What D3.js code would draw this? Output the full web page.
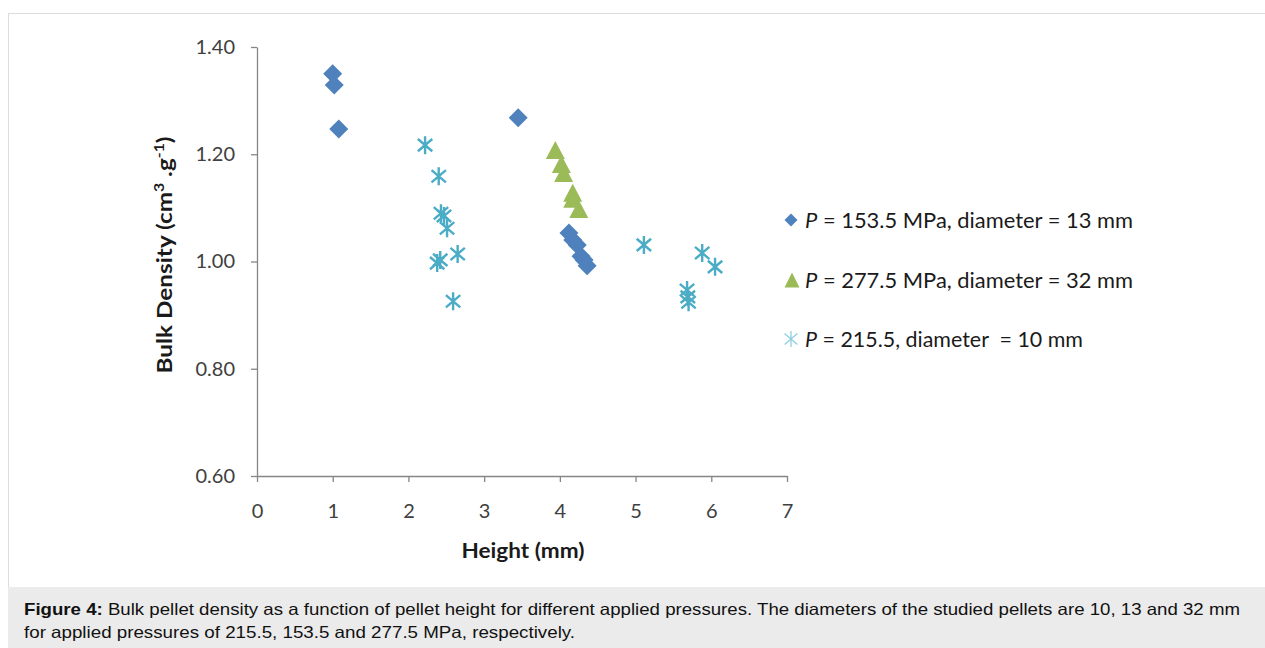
<!DOCTYPE html>
<html>
<head>
<meta charset="utf-8">
<script src="https://cdn.jsdelivr.net/npm/d3@7"></script>
<style>
  body { margin: 0; background: #fff; }
  svg { display: block; }
</style>
</head>
<body>
<div id="chart"></div>
<script>
// values
const heights153 = [1.00, 1.02, 1.08, 3.45, 4.12, 4.17, 4.23, 4.28, 4.32, 4.36];
const density153 = [1.350, 1.329, 1.247, 1.268, 1.053, 1.040, 1.031, 1.010, 1.003, 0.992];

const heights277 = [3.94, 4.02, 4.05, 4.17, 4.17, 4.25];
const density277 = [1.208, 1.182, 1.165, 1.128, 1.117, 1.098];

const heights215 = [2.22, 2.40, 2.43, 2.47, 2.51, 2.38, 2.42, 2.65, 2.59, 5.11, 5.88, 6.05, 5.68, 5.69, 5.70];
const density215 = [1.217, 1.159, 1.090, 1.085, 1.062, 0.997, 1.003, 1.014, 0.926, 1.031, 1.016, 0.990, 0.947, 0.934, 0.924];

const xTicks = [0, 1, 2, 3, 4, 5, 6, 7];
const yTicks = [0.60, 0.80, 1.00, 1.20, 1.40];

const legendLabels = [
  ["P", " = 153.5 MPa, diameter = 13 mm"],
  ["P", " = 277.5 MPa, diameter = 32 mm"],
  ["P", " = 215.5, diameter  = 10 mm"]
];
const legendWidths = [328, 328, 278];

const captionBold = "Figure 4:";
const captionLine1 = " Bulk pellet density as a function of pellet height for different applied pressures. The diameters of the studied pellets are 10, 13 and 32 mm";
const captionLine2 = "for applied pressures of 215.5, 153.5 and 277.5 MPa, respectively.";

const width = 1265, height = 648;
const chartFont = "Lato, 'Open Sans', sans-serif";
const blue = "#4f81bd", green = "#9bbb59", cyan = "#4bacc6";

const svg = d3.select("#chart").append("svg")
  .attr("width", width)
  .attr("height", height);

// frame + caption box
svg.append("rect")
  .attr("x", 8.5).attr("y", 13.5)
  .attr("width", width).attr("height", 574)
  .attr("fill", "#fff")
  .attr("stroke", "#dcdcdc");
svg.append("rect")
  .attr("x", 8).attr("y", 587)
  .attr("width", width - 8).attr("height", height - 587)
  .attr("fill", "#ebebeb");

const xScale = d3.scaleLinear().domain([0, 7]).range([257, 787]);
const yScale = d3.scaleLinear().domain([0.6, 1.4]).range([476, 47]);

const xAxis = svg.append("g")
  .attr("transform", "translate(0," + yScale(0.6) + ")")
  .call(d3.axisBottom(xScale).tickValues(xTicks).tickSize(6).tickPadding(22)
    .tickFormat(d3.format("d")).tickSizeOuter(0));
const yAxis = svg.append("g")
  .attr("transform", "translate(" + xScale(0) + ",0)")
  .call(d3.axisLeft(yScale).tickValues(yTicks).tickSize(6).tickPadding(16)
    .tickFormat(d3.format(".2f")).tickSizeOuter(0));

[xAxis, yAxis].forEach(g => {
  g.select(".domain").attr("stroke", "#868686").attr("stroke-width", 1.3);
  g.selectAll(".tick line").attr("stroke", "#868686").attr("stroke-width", 1.3);
  g.selectAll(".tick text")
    .attr("fill", "#404040")
    .style("font-family", chartFont)
    .style("font-size", "20px");
});

// axis titles
svg.append("text")
  .attr("x", 523).attr("y", 558)
  .attr("text-anchor", "middle")
  .attr("textLength", 123)
  .attr("lengthAdjust", "spacingAndGlyphs")
  .style("font-family", chartFont)
  .style("font-size", "20px")
  .style("font-weight", "bold")
  .attr("fill", "#1a1a1a")
  .text("Height (mm)");

const yTitle = svg.append("text")
  .attr("transform", "translate(172,255) rotate(-90)")
  .attr("text-anchor", "middle")
  .attr("textLength", 237)
  .attr("lengthAdjust", "spacingAndGlyphs")
  .style("font-family", chartFont)
  .style("font-size", "20px")
  .style("font-weight", "bold")
  .attr("fill", "#1a1a1a");
yTitle.append("tspan").text("Bulk Density (cm");
yTitle.append("tspan").attr("dy", -8).style("font-size", "13px").text("3");
yTitle.append("tspan").attr("dy", 8).text(" .g");
yTitle.append("tspan").attr("dy", -8).style("font-size", "13px").text("-1");
yTitle.append("tspan").attr("dy", 8).text(")");

// marker shapes
function diamond(r) {
  return "M0," + (-r) + "L" + r + ",0L0," + r + "L" + (-r) + ",0Z";
}
function triangle(w, h) {
  return "M0," + (-h / 2) + "L" + (w / 2) + "," + (h / 2) + "L" + (-w / 2) + "," + (h / 2) + "Z";
}
function star(r) {
  const d = r * 0.8;
  return "M0," + (-r) + "L0," + r +
    "M" + (-d) + "," + (-d * 0.85) + "L" + d + "," + (d * 0.85) +
    "M" + d + "," + (-d * 0.85) + "L" + (-d) + "," + (d * 0.85);
}

const pts215 = heights215.map((h, i) => [h, density215[i]]);
const pts277 = heights277.map((h, i) => [h, density277[i]]);
const pts153 = heights153.map((h, i) => [h, density153[i]]);

svg.append("g").selectAll("path")
  .data(pts215)
  .enter()
  .append("path")
  .attr("d", star(9))
  .attr("transform", d => "translate(" + xScale(d[0]) + "," + yScale(d[1]) + ")")
  .attr("fill", "none")
  .attr("stroke", cyan)
  .attr("stroke-width", 2.4);

svg.append("g").selectAll("path")
  .data(pts277)
  .enter()
  .append("path")
  .attr("d", triangle(19, 18))
  .attr("transform", d => "translate(" + xScale(d[0]) + "," + yScale(d[1]) + ")")
  .attr("fill", green);

svg.append("g").selectAll("path")
  .data(pts153)
  .enter()
  .append("path")
  .attr("d", diamond(9.5))
  .attr("transform", d => "translate(" + xScale(d[0]) + "," + yScale(d[1]) + ")")
  .attr("fill", blue);

// legend
const legendY = [220, 280, 339];
const legend = svg.append("g");
legend.append("path").attr("d", diamond(6.5))
  .attr("transform", "translate(791," + legendY[0] + ")").attr("fill", blue);
legend.append("path").attr("d", triangle(15, 15))
  .attr("transform", "translate(792," + legendY[1] + ")").attr("fill", green);
legend.append("path").attr("d", star(8))
  .attr("transform", "translate(791," + legendY[2] + ")")
  .attr("fill", "none").attr("stroke", "#8fcfe0").attr("stroke-width", 1.3);

legendLabels.forEach((lab, i) => {
  const t = legend.append("text")
    .attr("x", 805).attr("y", legendY[i] + 8)
    .attr("textLength", legendWidths[i])
    .attr("lengthAdjust", "spacingAndGlyphs")
    .style("font-family", chartFont)
    .style("font-size", "21px")
    .style("white-space", "pre")
    .attr("fill", "#1a1a1a");
  t.append("tspan").style("font-style", "italic").text(lab[0]);
  t.append("tspan").text(lab[1]);
});

// caption
const cap = svg.append("g")
  .style("font-family", "'Liberation Sans', Arial, sans-serif")
  .style("font-size", "16.5px")
  .attr("fill", "#111");
const l1 = cap.append("text").attr("x", 24).attr("y", 615)
  .attr("textLength", 1216)
  .attr("lengthAdjust", "spacingAndGlyphs");
l1.append("tspan").style("font-weight", "bold").text(captionBold);
l1.append("tspan").text(captionLine1);
cap.append("text").attr("x", 24).attr("y", 638)
  .attr("textLength", 551)
  .attr("lengthAdjust", "spacingAndGlyphs")
  .text(captionLine2);
</script>
</body>
</html>
